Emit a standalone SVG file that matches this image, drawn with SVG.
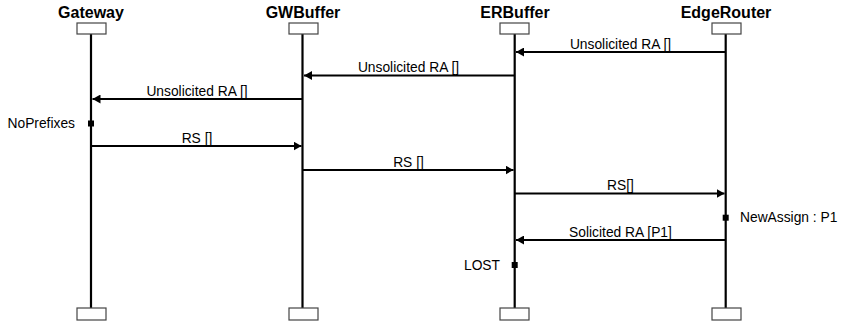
<svg xmlns="http://www.w3.org/2000/svg" width="843" height="326" viewBox="0 0 843 326">
<style>
.title{font-family:"Liberation Sans",Arial,sans-serif;font-size:16px;font-weight:bold;fill:#000;text-anchor:middle}
.lbl{font-family:"Liberation Sans",Arial,sans-serif;font-size:13.8px;fill:#000}
.mid{text-anchor:middle}
.end{text-anchor:end}
.box{fill:#fff;stroke:#444;stroke-width:1.2}
.life{stroke:#000;stroke-width:2.2}
.msg{stroke:#000;stroke-width:2;fill:none;marker-end:url(#ah)}
.state{fill:#000}
</style>
<defs>
<marker id="ah" markerWidth="9" markerHeight="9" refX="8" refY="4.5" orient="auto" markerUnits="userSpaceOnUse">
<path d="M0,0 L8,4.5 L0,9 Z" fill="#000"/>
</marker>
</defs>
<rect width="843" height="326" fill="#fff"/>
<g id="gateway">
<text class="title" x="91" y="18">Gateway</text>
<line class="life" x1="91" y1="34" x2="91" y2="308"/>
<rect class="box" x="77" y="23" width="29" height="11"/>
<rect class="box" x="77" y="308" width="29" height="12"/>
</g>
<g id="gwbuffer">
<text class="title" x="303" y="18">GWBuffer</text>
<line class="life" x1="302.5" y1="34" x2="302.5" y2="308"/>
<rect class="box" x="289" y="23" width="29" height="11"/>
<rect class="box" x="289" y="308" width="29" height="12"/>
</g>
<g id="erbuffer">
<text class="title" x="515" y="18">ERBuffer</text>
<line class="life" x1="514.7" y1="34" x2="514.7" y2="308"/>
<rect class="box" x="500" y="23" width="29" height="11"/>
<rect class="box" x="500" y="308" width="29" height="12"/>
</g>
<g id="edgerouter">
<text class="title" x="726" y="18">EdgeRouter</text>
<line class="life" x1="725.7" y1="34" x2="725.7" y2="308"/>
<rect class="box" x="712" y="23" width="29" height="11"/>
<rect class="box" x="712" y="308" width="29" height="12"/>
</g>
<g id="states">
<rect class="state" x="88" y="120.5" width="6" height="6"/>
<text class="lbl end" x="75" y="128">NoPrefixes</text>
<rect class="state" x="722.7" y="214.7" width="6" height="6"/>
<text class="lbl" x="740" y="222">NewAssign : P1</text>
<rect class="state" x="511.7" y="262" width="6" height="6"/>
<text class="lbl end" x="500" y="270">LOST</text>
</g>
<g id="connectors">
<line class="msg" x1="725.7" y1="52" x2="516" y2="52"/>
<text class="lbl mid" x="620.5" y="48.5">Unsolicited RA []</text>
<line class="msg" x1="514.7" y1="75.5" x2="304" y2="75.5"/>
<text class="lbl mid" x="408.5" y="72">Unsolicited RA []</text>
<line class="msg" x1="302.5" y1="99" x2="92.5" y2="99"/>
<text class="lbl mid" x="197" y="95.5">Unsolicited RA []</text>
<line class="msg" x1="91" y1="146" x2="301.5" y2="146"/>
<text class="lbl mid" x="197" y="142.5">RS []</text>
<line class="msg" x1="302.5" y1="170" x2="513.5" y2="170"/>
<text class="lbl mid" x="408.5" y="166.5">RS []</text>
<line class="msg" x1="514.7" y1="193.5" x2="724.5" y2="193.5"/>
<text class="lbl mid" x="620.5" y="190">RS[]</text>
<line class="msg" x1="725.7" y1="240" x2="516" y2="240"/>
<text class="lbl mid" x="620.5" y="236.5">Solicited RA [P1]</text>
</g>
</svg>
